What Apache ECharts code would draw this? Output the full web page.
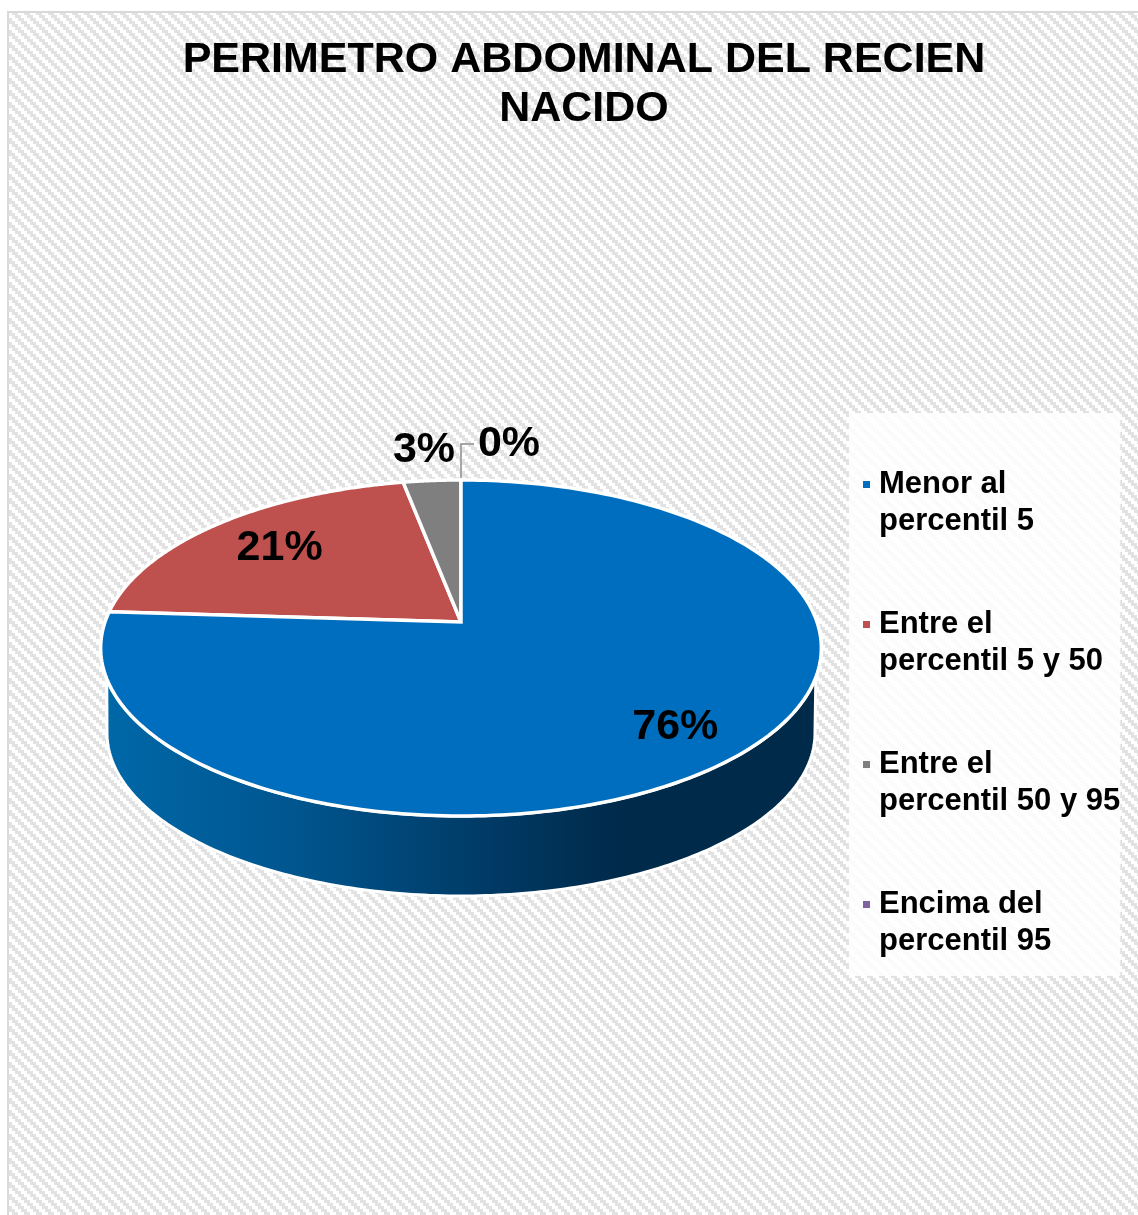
<!DOCTYPE html>
<html><head><meta charset="utf-8">
<style>html,body{margin:0;padding:0;background:#fff}#c{width:1138px;height:1215px}</style>
<script src="https://cdn.jsdelivr.net/npm/echarts@6/dist/echarts.min.js"></script>
</head><body><div id="c"></div>
<script>
var titleText = 'PERIMETRO ABDOMINAL DEL RECIEN\nNACIDO';
var categories = ['Menor al percentil 5','Entre el percentil 5 y 50','Entre el percentil 50 y 95','Encima del percentil 95'];
var legendLabels = ['Menor al\npercentil 5','Entre el\npercentil 5 y 50','Entre el\npercentil 50 y 95','Encima del\npercentil 95'];
var values = [76,21,3,0];
var colors = ['#006EBE','#BE504E','#7F7F7F','#8064A2'];

var FONT = '"Liberation Sans", Arial, sans-serif';
var CX=461, CY=622, A=356, B=164, K=0.1548;
var BOT = {cx:461, cy:733, rx:354, ry:163};
var SIDE_Y = 677;
var labelLayout = [{rho:0.8,dx:0,dy:0},{rho:0.73,dx:0,dy:0},{rho:1.33,dx:0,dy:8},{rho:1.3,dx:48,dy:0}];
var total = values.reduce(function(a,b){return a+b;},0);
function starts(i){var s=0;for(var k=0;k<i;k++)s+=values[k];return s/total;}
function proj(f,rho){
  var t=f*2*Math.PI,u=Math.sin(t)*rho,v=Math.cos(t)*rho,w=1+K*v;
  return [CX+A*u/w,CY-B*v/w];
}
function hatch(){
  var c=document.createElement('canvas');c.width=12;c.height=12;
  var g=c.getContext('2d');g.fillStyle='#fff';g.fillRect(0,0,12,12);
  g.fillStyle='#e2e2e2';
  for(var y=0;y<12;y+=3){for(var k=-1;k<2;k++){g.fillRect((y+k*12),y,6,3);g.fillRect((y+k*12+12),y,6,3);}}
  return c;
}
function renderSlice(i){
  return function(params,api){
    var v=api.value(0),f0=starts(i),f1=f0+v/total,kids=[];
    if(v<=0){
      var a=proj(1,1);
      kids.push({type:'polyline',shape:{points:[a,[a[0],a[1]-36],[a[0]+13,a[1]-36]]},style:{stroke:'#a6a6a6',lineWidth:2,fill:null},z2:1});
    } else {
      // front wall of the disc (only where this slice faces the viewer)
      var top=[];
      for(var n=0;n<=360;n++){var f=f0+(f1-f0)*n/360,p=proj(f,1);if(p[1]>=SIDE_Y)top.push(p);}
      if(top.length>2){
        var low=[],l0=top[top.length-1],l1=top[0];
        for(var q=0;q<=180;q++){
          var an=q/180*Math.PI;
          low.push([BOT.cx+BOT.rx*Math.cos(an)*(l0[0]>l1[0]?1:-1),BOT.cy+BOT.ry*Math.sin(an)]);
        }
        kids.push({type:'polygon',shape:{points:top.concat(low)},z2:1,
          style:{stroke:'#fff',lineWidth:3,lineJoin:'round',
            fill:{type:'linear',x:0,y:0,x2:1,y2:0,global:false,colorStops:[
              {offset:0,color:'#0068A8'},{offset:0.27,color:'#00558E'},{offset:0.52,color:'#003C68'},{offset:0.72,color:'#002A4A'},{offset:1,color:'#002A4A'}]}}});
      }
      var pts=[[CX,CY]];
      for(var m=0;m<=240;m++)pts.push(proj(f0+(f1-f0)*m/240,1));
      kids.push({type:'polygon',shape:{points:pts},z2:2,style:{fill:api.visual('color'),stroke:'#fff',lineWidth:3.5,lineJoin:'miter'}});
    }
    var L=labelLayout[i],c=proj((f0+f1)/2,L.rho);
    kids.push({type:'text',z2:5,style:{x:c[0]+L.dx,y:c[1]+L.dy,text:v+'%',fill:'#000',align:'center',verticalAlign:'middle',font:'bold 43px '+FONT}});
    return {type:'group',children:kids};
  };
}
var series=categories.map(function(n,i){
  return {type:'custom',name:n,coordinateSystem:'none',z:i===0?3:2,itemStyle:{color:colors[i]},data:[[values[i]]],renderItem:renderSlice(i),silent:true,animation:false,clip:false};
});
var chart=echarts.init(document.getElementById('c'),null,{renderer:'canvas'});
chart.setOption({
  animation:false,
  backgroundColor:'#fff',
  graphic:[{type:'rect',z:-10,silent:true,shape:{x:8,y:12,width:1140,height:1215},style:{fill:{image:hatch(),repeat:'repeat'},stroke:'#d9d9d9',lineWidth:2}}],
  title:{text:titleText,left:579,top:31,textAlign:'center',textStyle:{fontFamily:FONT,fontWeight:'bold',fontSize:43,lineHeight:49,color:'#000'}},
  legend:{orient:'vertical',left:849,top:413,width:289,height:560,padding:[16,0,16,14],itemGap:29,icon:'rect',itemWidth:7,itemHeight:7,
    backgroundColor:'rgba(255,255,255,0.85)',selectedMode:false,
    data:categories,
    formatter:function(n){return '\n'+legendLabels[categories.indexOf(n)];},
    textStyle:{fontFamily:FONT,fontWeight:'bold',fontSize:31,lineHeight:37,color:'#000',padding:[0,0,0,4]}},
  series:series
});
</script></body></html>
